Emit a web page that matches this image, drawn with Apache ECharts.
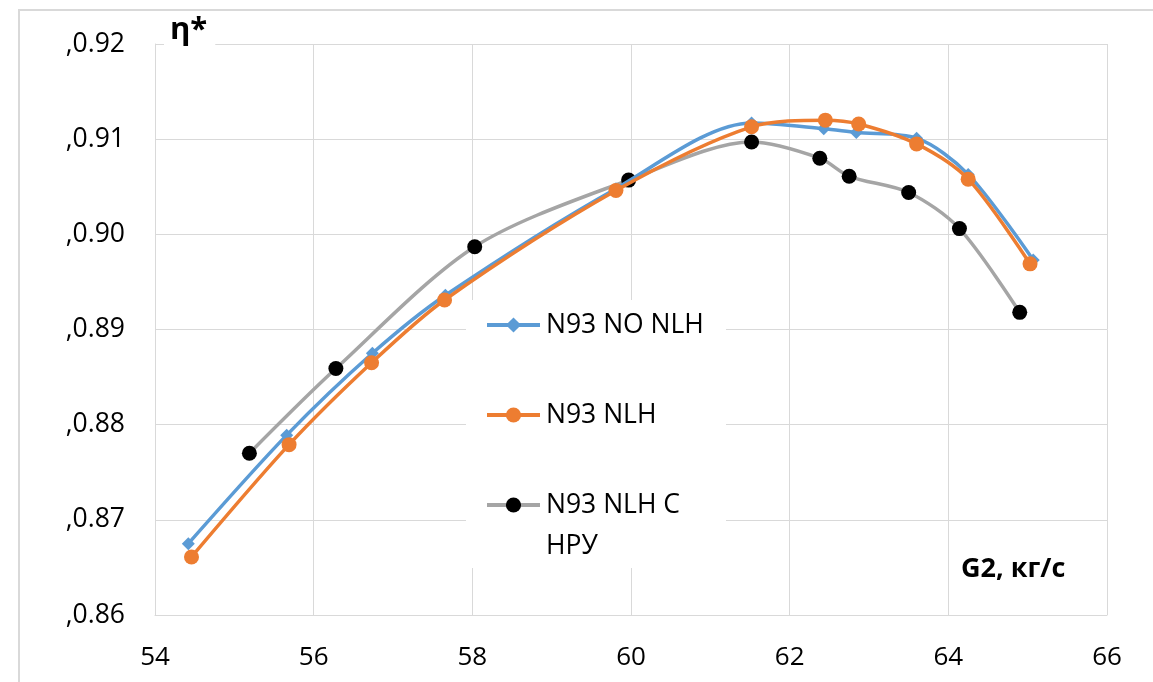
<!DOCTYPE html>
<html>
<head>
<meta charset="utf-8">
<script src="https://cdn.jsdelivr.net/npm/echarts@6/dist/echarts.min.js"></script>
<style>
html,body{margin:0;padding:0;background:#fff;}
#chart{width:1153px;height:682px;}
</style>
</head>
<body>
<div id="chart"></div>
<script>
// ---- data ----
const seriesNames = ['N93 NO NLH', 'N93 NLH', 'N93 NLH С НРУ'];
const blueX = [54.42, 55.66, 56.74, 57.66, 59.81, 61.52, 62.43, 62.84, 63.60, 64.25, 65.07];
const blueY = [0.8675, 0.8789, 0.8875, 0.8936, 0.9048, 0.9117, 0.9111, 0.9107, 0.9101, 0.9063, 0.8973];
const orangeX = [54.46, 55.69, 56.73, 57.65, 59.81, 61.52, 62.45, 62.87, 63.60, 64.25, 65.03];
const orangeY = [0.8661, 0.8779, 0.8865, 0.8931, 0.9046, 0.9113, 0.9120, 0.9116, 0.9095, 0.9058, 0.8969];
const blackX = [55.19, 56.28, 58.03, 59.97, 61.52, 62.38, 62.75, 63.50, 64.14, 64.90];
const blackY = [0.8770, 0.8859, 0.8987, 0.9057, 0.9097, 0.9080, 0.9061, 0.9044, 0.9006, 0.8918];
const xTitle = 'G2, кг/с';
const yTitle = 'η*';

const zip = (xs, ys) => xs.map((x, i) => [x, ys[i]]);
const FONT = '"Open Sans", "Liberation Sans", sans-serif';
const GRID_C = '#d9d9d9';

const chart = echarts.init(document.getElementById('chart'), null, {renderer: 'canvas'});

function legendFor(name, top) {
  return {
    data: [name],
    orient: 'vertical',
    left: 485,
    top: top,
    padding: 0,
    itemWidth: 53,
    itemHeight: 19,
    itemGap: 0,
    lineStyle: {width: 4},
    textStyle: {fontFamily: FONT, fontSize: 26.5, color: '#000', lineHeight: 41, padding: [0, 0, 0, 1]},
    formatter: n => n === 'N93 NLH С НРУ' ? '\nN93 NLH С\nНРУ' : n
  };
}

const option = {
  backgroundColor: '#fff',
  animation: false,
  grid: {left: 155, right: 46, top: 44, bottom: 67, containLabel: false},
  xAxis: {
    type: 'value', min: 54, max: 66, interval: 2,
    axisLine: {show: true, lineStyle: {color: GRID_C, width: 1}},
    axisTick: {show: false},
    splitLine: {show: true, lineStyle: {color: GRID_C, width: 1}},
    axisLabel: {fontFamily: FONT, fontSize: 26, color: '#000', margin: 30}
  },
  yAxis: {
    type: 'value', min: 0.86, max: 0.92, interval: 0.01,
    axisLine: {show: true, lineStyle: {color: GRID_C, width: 1}},
    axisTick: {show: false},
    splitLine: {show: true, lineStyle: {color: GRID_C, width: 1}},
    axisLabel: {fontFamily: FONT, fontSize: 26.5, color: '#000', margin: 30,
      formatter: v => ',' + v.toFixed(2)}
  },
  legend: [
    legendFor(seriesNames[0], 304.5),
    legendFor(seriesNames[1], 394.5),
    legendFor(seriesNames[2], 443.5)
  ],
  graphic: [
    {type: 'rect', z: 1, shape: {x: 466, y: 300, width: 260, height: 268}, style: {fill: '#fff'}},
    {type: 'rect', z: 1, silent: true, shape: {x: 19, y: 10, width: 1200, height: 720}, style: {fill: 'none', stroke: GRID_C, lineWidth: 2}},
    {type: 'text', z: 10, left: 164, top: 15, style: {text: yTitle, font: 'bold 31px ' + FONT, fill: '#000', backgroundColor: '#fff', padding: [0, 8, 0, 6]}},
    {type: 'text', z: 10, left: 961, top: 556, style: {text: xTitle, font: 'bold 27px ' + FONT, fill: '#000'}}
  ],
  series: [
    {
      name: seriesNames[0], type: 'line', smooth: 0.3,
      data: zip(blueX, blueY),
      symbol: 'diamond', symbolSize: 13,
      lineStyle: {color: '#5B9BD5', width: 3.5},
      itemStyle: {color: '#5B9BD5'},
      z: 3
    },
    {
      name: seriesNames[1], type: 'line', smooth: 0.3,
      data: zip(orangeX, orangeY),
      symbol: 'circle', symbolSize: 15,
      lineStyle: {color: '#ED7D31', width: 3.5},
      itemStyle: {color: '#ED7D31'},
      z: 4
    },
    {
      name: seriesNames[2], type: 'line', smooth: 0.3,
      data: zip(blackX, blackY),
      symbol: 'circle', symbolSize: 15,
      lineStyle: {color: '#A5A5A5', width: 3.5},
      itemStyle: {color: '#000000'},
      z: 2
    }
  ]
};
chart.setOption(option);
</script>
</body>
</html>
